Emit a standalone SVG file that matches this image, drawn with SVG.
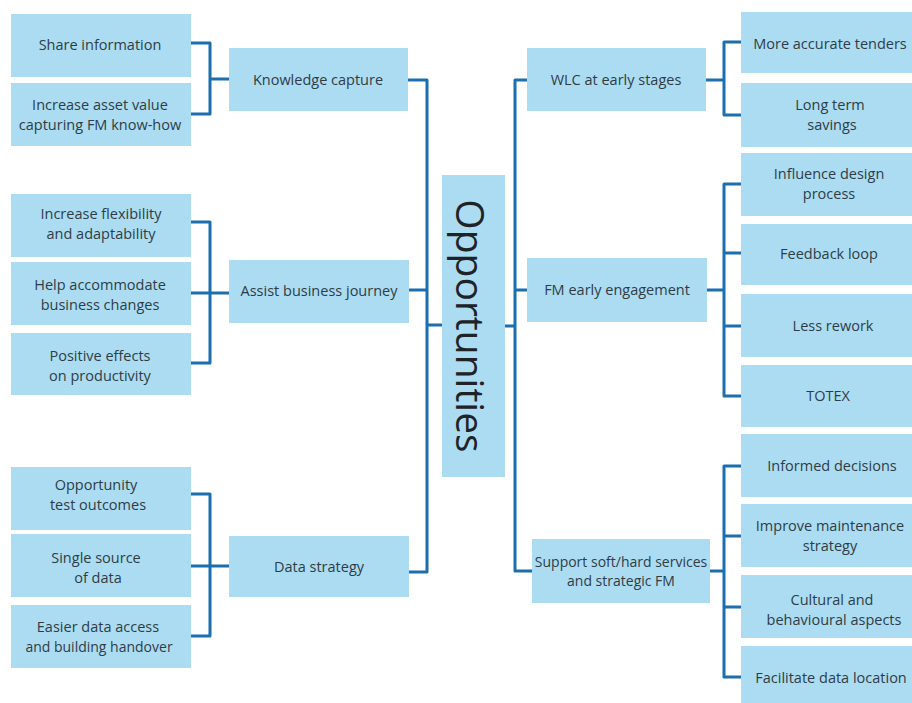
<svg xmlns="http://www.w3.org/2000/svg" width="912" height="703" viewBox="0 0 912 703">
<style>
.box{fill:#abdcf1;}
.t{font-family:"Open Sans","Liberation Sans",sans-serif;font-size:14.5px;font-weight:500;fill:#2f3c47;text-anchor:middle;dominant-baseline:central;}
.s{font-size:14px;}
.big{font-family:"Open Sans","Liberation Sans",sans-serif;font-size:39px;fill:#1e2328;text-anchor:middle;dominant-baseline:central;}
.c{fill:none;stroke:#1c6fae;stroke-width:3;stroke-linejoin:round;stroke-linecap:butt;}
</style>
<rect width="912" height="703" fill="#ffffff"/>
<g id="connectors">
<path class="c" d="M191,43H210V114H191M210,79H229"/>
<path class="c" d="M191,222H210V363H191M191,293H229"/>
<path class="c" d="M191,494H210V636H191M191,566H229"/>
<path class="c" d="M408,80H427V572H409M409,290H427M427,325H442"/>
<path class="c" d="M527,80H515V571H532M515,290H527M505,326H515"/>
<path class="c" d="M741,42H724V115H741M706,80H724"/>
<path class="c" d="M741,184H724V396H741M724,253H741M724,326H741M707,290H724"/>
<path class="c" d="M741,466H724V677H741M724,536H741M724,607H741M710,571H724"/>
</g>
<g id="opportunities"><rect class="box" x="442" y="175" width="63" height="302"/><text class="big" transform="translate(471,326) rotate(90)">Opportunities</text></g>
<g id="knowledge-capture"><rect class="box" x="229" y="48" width="179" height="63"/><text class="t" x="318" y="79">Knowledge capture</text></g>
<g id="share-information"><rect class="box" x="11" y="14" width="180" height="63"/><text class="t" x="100" y="44">Share information</text></g>
<g id="increase-asset-value"><rect class="box" x="11" y="83" width="180" height="63"/><text class="t" x="100" y="104">Increase asset value</text><text class="t" x="100" y="124">capturing FM know-how</text></g>
<g id="assist-business-journey"><rect class="box" x="229" y="260" width="180" height="63"/><text class="t" x="319" y="290">Assist business journey</text></g>
<g id="increase-flexibility"><rect class="box" x="11" y="194" width="180" height="63"/><text class="t" x="101" y="213">Increase flexibility</text><text class="t" x="101" y="233">and adaptability</text></g>
<g id="help-accommodate"><rect class="box" x="11" y="262" width="180" height="63"/><text class="t" x="100" y="284">Help accommodate</text><text class="t" x="100" y="304">business changes</text></g>
<g id="positive-effects"><rect class="box" x="11" y="333" width="180" height="62"/><text class="t" x="100" y="355">Positive effects</text><text class="t" x="100" y="375">on productivity</text></g>
<g id="data-strategy"><rect class="box" x="229" y="536" width="180" height="61"/><text class="t" x="319" y="566">Data strategy</text></g>
<g id="opportunity-test"><rect class="box" x="11" y="467" width="180" height="63"/><text class="t" x="96" y="484">Opportunity</text><text class="t" x="98" y="504">test outcomes</text></g>
<g id="single-source"><rect class="box" x="11" y="534" width="180" height="63"/><text class="t" x="96" y="557">Single source</text><text class="t" x="98" y="577">of data</text></g>
<g id="easier-data-access"><rect class="box" x="11" y="605" width="180" height="63"/><text class="t" x="98" y="626">Easier data access</text><text class="t s" x="99" y="646">and building handover</text></g>
<g id="wlc"><rect class="box" x="527" y="48" width="179" height="63"/><text class="t" x="616" y="79">WLC at early stages</text></g>
<g id="fm-early"><rect class="box" x="527" y="258" width="180" height="64"/><text class="t" x="617" y="289">FM early engagement</text></g>
<g id="support"><rect class="box" x="532" y="539" width="178" height="64"/><text class="t s" x="621" y="561">Support soft/hard services</text><text class="t s" x="621" y="580">and strategic FM</text></g>
<g id="more-accurate"><rect class="box" x="741" y="12" width="180" height="61"/><text class="t" x="830" y="43">More accurate tenders</text></g>
<g id="long-term"><rect class="box" x="741" y="83" width="180" height="64"/><text class="t" x="830" y="104">Long term</text><text class="t" x="832" y="124">savings</text></g>
<g id="influence-design"><rect class="box" x="741" y="153" width="180" height="63"/><text class="t" x="829" y="173">Influence design</text><text class="t" x="829" y="193">process</text></g>
<g id="feedback-loop"><rect class="box" x="741" y="224" width="180" height="61"/><text class="t" x="829" y="253">Feedback loop</text></g>
<g id="less-rework"><rect class="box" x="741" y="294" width="180" height="63"/><text class="t" x="833" y="325">Less rework</text></g>
<g id="totex"><rect class="box" x="741" y="365" width="180" height="62"/><text class="t" x="828" y="395">TOTEX</text></g>
<g id="informed-decisions"><rect class="box" x="741" y="434" width="180" height="63"/><text class="t" x="832" y="465">Informed decisions</text></g>
<g id="improve-maintenance"><rect class="box" x="741" y="504" width="180" height="63"/><text class="t" x="830" y="525">Improve maintenance</text><text class="t" x="830" y="545">strategy</text></g>
<g id="cultural"><rect class="box" x="741" y="575" width="180" height="63"/><text class="t" x="832" y="599">Cultural and</text><text class="t" x="834" y="619">behavioural aspects</text></g>
<g id="facilitate"><rect class="box" x="741" y="646" width="180" height="70"/><text class="t" x="831" y="677">Facilitate data location</text></g>
</svg>
